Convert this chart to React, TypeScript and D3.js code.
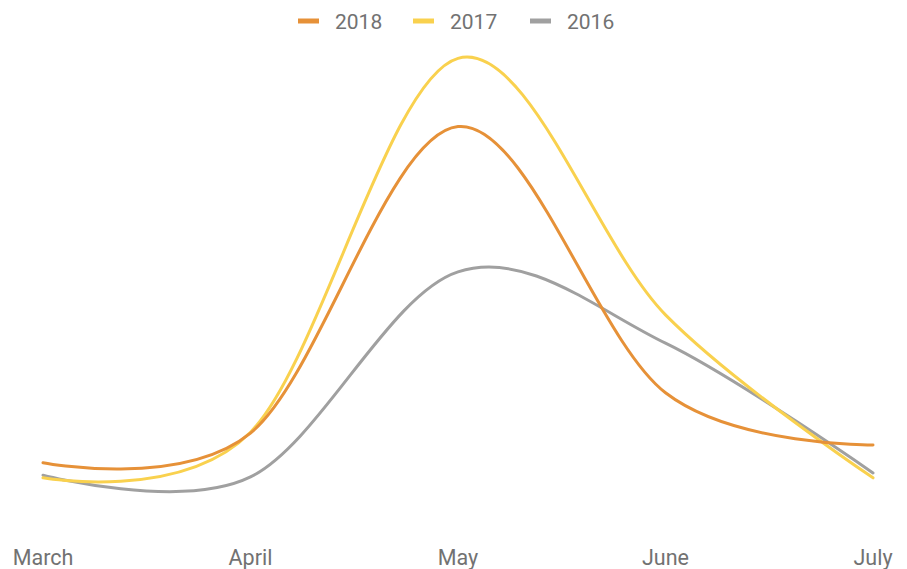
import React from "react";
import * as d3 from "d3";

const months = ["March", "April", "May", "June", "July"];
const series2018 = [8.4, 15.1, 84.3, 24.2, 12.4];
const series2017 = [5.0, 15.3, 99.7, 41.8, 5.0];
const series2016 = [5.6, 5.2, 51.5, 35.4, 6.1];
const seriesNames = ["2018", "2017", "2016"];
const seriesColors = ["#E69138", "#F9D14E", "#A0A0A0"];

const W = 907;
const H = 569;

export default function App() {
  const x = d3.scalePoint<string>().domain(months).range([43, 873]);
  const y = d3.scaleLinear().domain([0, 100]).range([500, 57]);
  const line = d3
    .line<number>()
    .x((_, i) => x(months[i]) as number)
    .y((d) => y(d))
    .curve(d3.curveCardinal.tension(0));

  const allSeries = [series2018, series2017, series2016];
  const legendX = [298, 413, 530];

  return (
    <svg
      width={W}
      height={H}
      style={{ position: "absolute", left: 0, top: 0, background: "#fff" }}
      fontFamily="Roboto, sans-serif"
    >
      {/* legend */}
      {seriesNames.map((n, i) => (
        <g key={n} transform={`translate(${legendX[i]},21)`}>
          <line x1={0} x2={21} y1={0} y2={0} stroke={seriesColors[i]} strokeWidth={5} />
          <text x={37} y={7.5} fontSize={21} fill="#727272">
            {n}
          </text>
        </g>
      ))}
      {/* lines, drawn back to front */}
      {[2, 1, 0].map((i) => (
        <path
          key={seriesNames[i]}
          d={line(allSeries[i]) || ""}
          fill="none"
          stroke={seriesColors[i]}
          strokeWidth={3}
          strokeLinecap="round"
        />
      ))}
      {/* x axis labels */}
      {months.map((m) => (
        <text
          key={m}
          x={x(m) as number}
          y={565}
          textAnchor="middle"
          fontSize={21.5}
          fill="#727272"
        >
          {m}
        </text>
      ))}
    </svg>
  );
}
